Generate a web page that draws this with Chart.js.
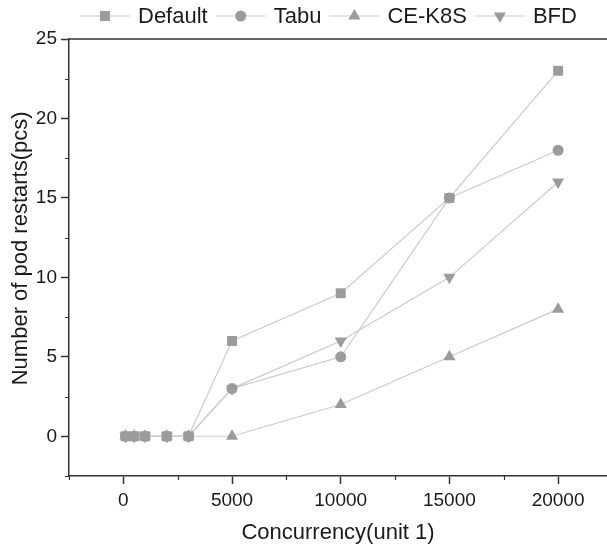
<!DOCTYPE html>
<html>
<head>
<meta charset="utf-8">
<title>Pod restarts vs concurrency</title>
<script src="https://cdn.jsdelivr.net/npm/chart.js@4/dist/chart.umd.min.js"></script>
<style>
  html, body { margin: 0; padding: 0; background: #ffffff; }
  #wrap { width: 607px; height: 550px; position: relative; }
</style>
</head>
<body>
<div id="wrap"><canvas id="chart" width="607" height="550"></canvas></div>
<script>
// Concurrency levels (x) and restart counts per scheduler
const concurrency     = [100, 500, 1000, 2000, 3000, 5000, 10000, 15000, 20000];
const defaultRestarts = [0, 0, 0, 0, 0, 6, 9, 15, 23];
const tabuRestarts    = [0, 0, 0, 0, 0, 3, 5, 15, 18];
const ceK8sRestarts   = [0, 0, 0, 0, 0, 0, 2, 5, 8];
const bfdRestarts     = [0, 0, 0, 0, 0, 3, 6, 10, 16];

const seriesNames  = ['Default', 'Tabu', 'CE-K8S', 'BFD'];
const xTickValues  = [0, 5000, 10000, 15000, 20000];
const yTickValues  = [0, 5, 10, 15, 20, 25];
const xMinorTicks  = [-2500, 2500, 7500, 12500, 17500];
const yMinorTicks  = [-2.5, 2.5, 7.5, 12.5, 17.5, 22.5];

const FONT = "'Liberation Sans', Arial, Helvetica, sans-serif";
const LINE_COLOR = '#cbcbcb';
const MARK_COLOR = '#9b9b9b';
const AXIS_COLOR = '#333333';

const markerStyles = [
  { pointStyle: 'rect',     radius: 7,   rotation: 0 },
  { pointStyle: 'circle',   radius: 5.5, rotation: 0 },
  { pointStyle: 'triangle', radius: 7,   rotation: 0 },
  { pointStyle: 'triangle', radius: 7,   rotation: 180 }
];

const seriesValues = [defaultRestarts, tabuRestarts, ceK8sRestarts, bfdRestarts];

const datasets = seriesNames.map((name, i) => ({
  label: name,
  data: concurrency.map((x, j) => ({ x: x, y: seriesValues[i][j] })),
  borderColor: LINE_COLOR,
  borderWidth: 1.2,
  backgroundColor: MARK_COLOR,
  pointBackgroundColor: MARK_COLOR,
  pointBorderColor: MARK_COLOR,
  pointBorderWidth: 0,
  pointStyle: markerStyles[i].pointStyle,
  pointRadius: markerStyles[i].radius,
  pointRotation: markerStyles[i].rotation,
  pointHoverRadius: markerStyles[i].radius,
  tension: 0,
  fill: false,
  clip: false
}));

// Legend row: line segment with marker, then the series name
const legendRow = {
  id: 'legendRow',
  afterDraw(chart) {
    const ctx = chart.ctx;
    const y = 16;
    let x = 80;
    const symW = 50, gap = 8;
    ctx.save();
    ctx.font = '22px ' + FONT;
    ctx.textBaseline = 'middle';
    ctx.textAlign = 'left';
    chart.data.datasets.forEach((ds) => {
      ctx.strokeStyle = LINE_COLOR;
      ctx.lineWidth = 1.2;
      ctx.beginPath();
      ctx.moveTo(x, y);
      ctx.lineTo(x + symW, y);
      ctx.stroke();
      ctx.fillStyle = MARK_COLOR;
      ctx.strokeStyle = MARK_COLOR;
      ctx.lineWidth = 0;
      Chart.helpers.drawPoint(ctx, {
        pointStyle: ds.pointStyle,
        radius: ds.pointRadius,
        rotation: ds.pointRotation,
        borderWidth: 0
      }, x + symW / 2, y);
      ctx.fillStyle = '#1a1a1a';
      const tx = x + symW + gap;
      ctx.fillText(ds.label, tx, y + 1);
      x = tx + ctx.measureText(ds.label).width + gap;
    });
    ctx.restore();
  }
};

// Top frame line and minor tick marks
const frameAndMinorTicks = {
  id: 'frameAndMinorTicks',
  afterDraw(chart) {
    const ctx = chart.ctx;
    const area = chart.chartArea;
    const xs = chart.scales.x, ys = chart.scales.y;
    ctx.save();
    ctx.strokeStyle = AXIS_COLOR;
    ctx.lineWidth = 1.5;
    ctx.beginPath();
    ctx.moveTo(area.left, area.top);
    ctx.lineTo(area.right, area.top);
    ctx.stroke();
    ctx.lineWidth = 1.2;
    ctx.beginPath();
    xMinorTicks.forEach(v => {
      const px = Math.round(xs.getPixelForValue(v)) + 0.5;
      ctx.moveTo(px, area.bottom);
      ctx.lineTo(px, area.bottom + 4);
    });
    yMinorTicks.forEach(v => {
      const py = Math.round(ys.getPixelForValue(v)) + 0.5;
      ctx.moveTo(area.left, py);
      ctx.lineTo(area.left - 4, py);
    });
    ctx.stroke();
    ctx.restore();
  }
};

new Chart(document.getElementById('chart'), {
  type: 'line',
  data: { datasets: datasets },
  options: {
    responsive: false,
    animation: false,
    devicePixelRatio: 1,
    layout: { autoPadding: false, padding: { top: 39, right: 0, bottom: 0, left: 0 } },
    plugins: {
      legend: { display: false },
      tooltip: { enabled: false }
    },
    scales: {
      x: {
        type: 'linear',
        min: -2500,
        max: 22250,
        afterBuildTicks(scale) { scale.ticks = xTickValues.map(v => ({ value: v })); },
        afterFit(scale) {
          scale.height = 74;
          scale.paddingLeft = 0;
          scale.paddingRight = 0;
        },
        border: { display: true, color: AXIS_COLOR, width: 1.5 },
        grid: { drawOnChartArea: false, drawTicks: true, tickLength: 8, tickColor: AXIS_COLOR, tickWidth: 1.5 },
        ticks: {
          padding: 5,
          maxRotation: 0,
          autoSkip: false,
          color: '#1a1a1a',
          font: { family: FONT, size: 19 },
          callback: v => String(v)
        },
        title: {
          display: true,
          text: 'Concurrency(unit 1)',
          color: '#1a1a1a',
          font: { family: FONT, size: 22 },
          padding: { top: 0, bottom: 4 }
        }
      },
      y: {
        type: 'linear',
        min: -2.5,
        max: 25,
        afterBuildTicks(scale) { scale.ticks = yTickValues.map(v => ({ value: v })); },
        afterFit(scale) {
          scale.width = 69;
          scale.paddingTop = 0;
          scale.paddingBottom = 0;
        },
        border: { display: true, color: AXIS_COLOR, width: 1.5 },
        grid: { drawOnChartArea: false, drawTicks: true, tickLength: 8, tickColor: AXIS_COLOR, tickWidth: 1.5 },
        ticks: {
          padding: 4,
          color: '#1a1a1a',
          font: { family: FONT, size: 19 },
          callback: v => String(v)
        },
        title: {
          display: true,
          text: '   Number of pod restarts(pcs)',
          color: '#1a1a1a',
          font: { family: FONT, size: 22 },
          padding: { top: 8, bottom: 0 }
        }
      }
    }
  },
  plugins: [frameAndMinorTicks, legendRow]
});
</script>
</body>
</html>
